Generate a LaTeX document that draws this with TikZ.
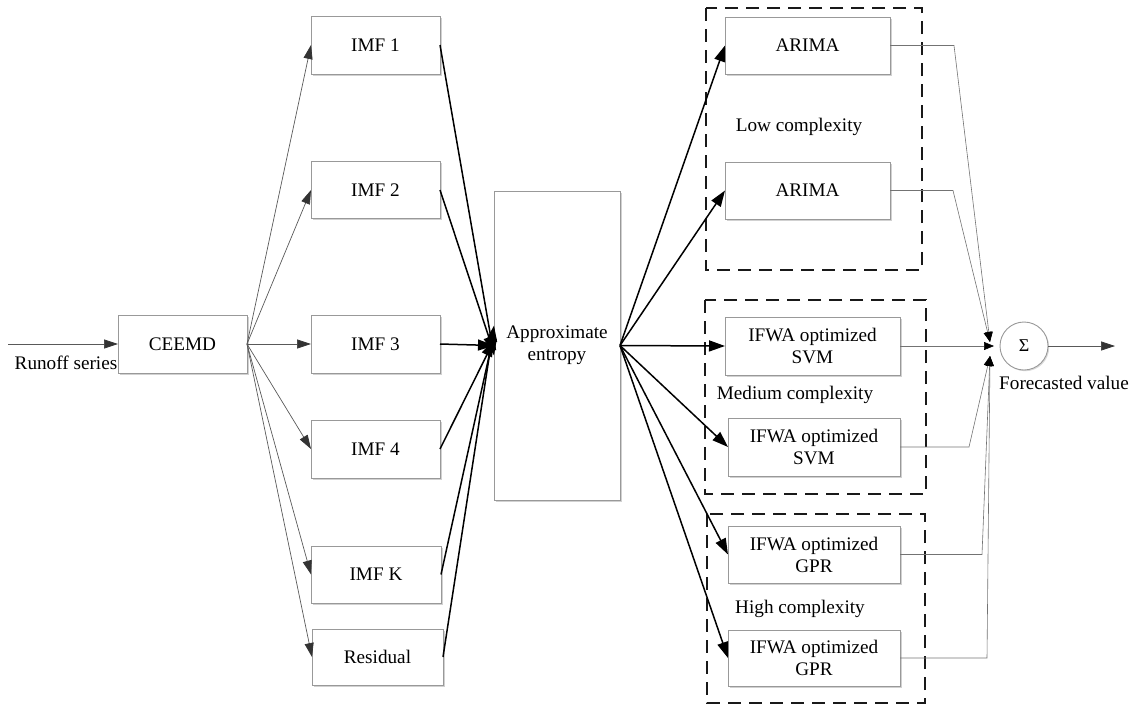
\documentclass[tikz,border=0pt]{standalone}
\usepackage{fontspec}
\setmainfont{Liberation Serif}
\usetikzlibrary{arrows.meta,shadows,calc}
\begin{document}
\begin{tikzpicture}[x=1pt,y=-1pt,
  box/.style={draw=black!40, line width=0.9pt, fill=white, inner sep=0pt, outer sep=0pt,
    align=center, text=black, font=\fontsize{19.2}{22}\selectfont,
    drop shadow={shadow xshift=1.5pt, shadow yshift=-1.5pt, fill=black, opacity=0.18}},
  lbl/.style={inner sep=0pt, text=black, font=\fontsize{19.2}{22}\selectfont},
  thinarr/.style={draw=black!65, line width=0.7pt, -{Triangle[length=14pt,width=9pt,color=black!80]}},
  thickarr/.style={draw=black, line width=1.5pt, -{Triangle[length=16pt,width=11pt]}},
  sumarr/.style={draw=black!55, line width=0.6pt, -{Triangle[length=10pt,width=8pt,color=black]}},
  grp/.style={draw=black!90, line width=1.8pt, dash pattern=on 13pt off 8pt}
]
\useasboundingbox (0,0) rectangle (1129,705);

% group frames
\draw[grp] (706,8) rectangle (922,270);
\draw[grp] (705,300) rectangle (926,494);
\draw[grp] (707,514) rectangle (925,703);

% nodes
\node[box, minimum width=129pt, minimum height=58pt] (ceemd) at (182.5,344) {CEEMD};
\node[box, minimum width=129pt, minimum height=58pt] (imf1) at (375.5,45) {IMF 1};
\node[box, minimum width=129pt, minimum height=57pt] (imf2) at (375.5,190) {IMF 2};
\node[box, minimum width=129pt, minimum height=58pt] (imf3) at (375.5,344) {IMF 3};
\node[box, minimum width=129pt, minimum height=58pt] (imf4) at (375.5,449) {IMF 4};
\node[box, minimum width=130pt, minimum height=57pt] (imfk) at (376,574.5) {IMF K};
\node[box, minimum width=131pt, minimum height=56pt] (resid) at (377.5,657) {Residual};
\node[box, minimum width=126pt, minimum height=309pt] (apen) at (557,345.5) {Approximate\\entropy};

\node[box, minimum width=165pt, minimum height=57pt] (arima1) at (807.5,45.5) {ARIMA};
\node[box, minimum width=165pt, minimum height=57pt] (arima2) at (807.5,190.5) {ARIMA};
\node[box, minimum width=175pt, minimum height=58pt] (svm1) at (812.5,346) {IFWA optimized\\SVM};
\node[box, minimum width=172pt, minimum height=58pt] (svm2) at (814,447) {IFWA optimized\\SVM};
\node[box, minimum width=172pt, minimum height=57pt] (gpr1) at (814,554.5) {IFWA optimized\\GPR};
\node[box, minimum width=172pt, minimum height=56pt] (gpr2) at (814,658) {IFWA optimized\\GPR};

\node[lbl] (lowc) at (799,127) {Low complexity};
\node[lbl] (medc) at (795,395) {Medium complexity};
\node[lbl] (highc) at (800,609) {High complexity};

\node[circle, draw=black!40, line width=0.9pt, fill=white, minimum size=48pt, inner sep=0pt,
  font=\fontsize{18}{20}\selectfont, text=black,
  drop shadow={shadow xshift=1.2pt, shadow yshift=-1.2pt, fill=black, opacity=0.15}] (sum) at (1024,346) {Σ};
\node[lbl] (fval) at (1064,383) {Forecasted value};
\node[lbl] (runoff) at (66,363) {Runoff series};

\coordinate (src) at (8,344);
\coordinate (out) at (1115,346);
\coordinate (sumA) at (990,342);
\coordinate (sumB) at (994,346);
\coordinate (sumC) at (990,356);

% input / output
\draw[thinarr] (src) -- (ceemd.west);
\draw[thinarr] (sum.east) -- (out);

% CEEMD to IMFs
\foreach \n in {imf1,imf2,imf3,imf4,imfk,resid}
  \draw[thinarr] (ceemd.east) -- (\n.west);

% IMFs to approximate entropy
\draw[thickarr] (imf1.east) -- ([yshift=-10pt]apen.west);
\draw[thickarr] (imf2.east) -- ([yshift=-7pt]apen.west);
\draw[thickarr] (imf3.east) -- (apen.west);
\draw[thickarr] (imf4.east) -- ([yshift=5pt]apen.west);
\draw[thickarr] (imfk.east) -- ([yshift=12pt]apen.west);
\draw[thickarr] (resid.east) -- ([yshift=20pt]apen.west);

% approximate entropy to models
\draw[thickarr] (apen.east) -- (arima1.west);
\draw[thickarr] (apen.east) -- (arima2.west);
\draw[thickarr] (apen.east) -- (svm1.west);
\draw[thickarr] (apen.east) -- (svm2.west);
\draw[thickarr] (apen.east) -- (gpr1.west);
\draw[thickarr] (apen.east) -- (gpr2.west);

% models to sum
\draw[sumarr] (arima1.east) -- ++(64,0) -- (sumA);
\draw[sumarr] (arima2.east) -- ++(63,0) -- (sumA);
\draw[sumarr] (svm1.east) -- (sumB);
\draw[sumarr] (svm2.east) -- ++(69,0) -- (sumC);
\draw[sumarr] (gpr1.east) -- ++(82,0) -- (sumC);
\draw[sumarr] (gpr2.east) -- ++(87,0) -- (sumC);
\end{tikzpicture}
\end{document}
